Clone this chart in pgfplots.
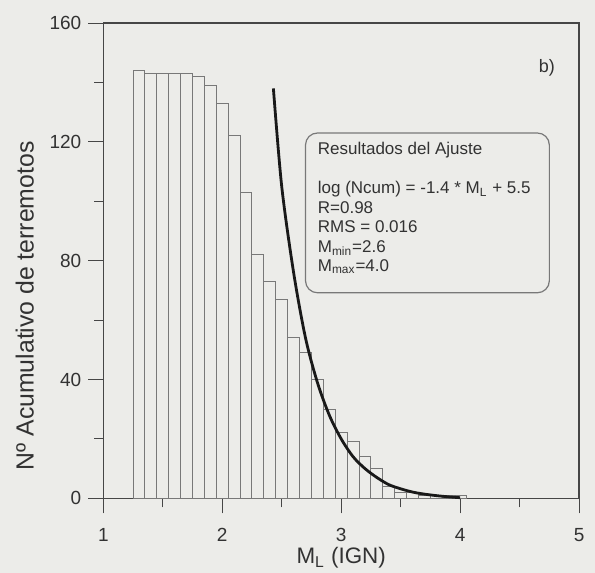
\documentclass[border=0pt]{standalone}
\usepackage{fontspec}
\setmainfont{Liberation Sans}
\usepackage{pgfplots}
\pgfplotsset{compat=1.18}
\definecolor{bgc}{RGB}{236,236,233}
\definecolor{axc}{RGB}{70,70,70}
\definecolor{barc}{RGB}{120,120,120}
\definecolor{txc}{RGB}{50,50,50}
\begin{document}
\begin{tikzpicture}
\path[use as bounding box, fill=bgc] (-51.65pt,-37.35pt) rectangle (245.85pt,249.15pt);
\begin{axis}[
  at={(0,0)}, anchor=south west,
  scale only axis,
  width=237.9pt, height=237.6pt,
  xmin=1, xmax=5, ymin=0, ymax=160,
  xtick={1,2,3,4,5}, ytick={0,40,80,120,160},
  minor x tick num=1, minor y tick num=1,
  tick align=outside,
  major tick length=7.5pt, minor tick length=4.5pt,
  tick style={axc, line width=0.5pt},
  axis line style={axc, line width=0.6pt},
  every tick/.style={axc},
  xtick pos=bottom, ytick pos=left,
  tick label style={font=\fontsize{9.5}{11}\selectfont, text=txc},
  xticklabel style={yshift=-4pt},
  /pgf/number format/assume math mode=true,
  xlabel={M\textsubscript{L} (IGN)},
  ylabel={Nº Acumulativo de terremotos},
  xlabel style={font=\fontsize{11.2}{13}\selectfont, text=txc, yshift=4pt},
  ylabel style={font=\fontsize{12.4}{14}\selectfont, text=txc, at={(ticklabel cs:0.405)}, yshift=1pt},
  axis background/.style={fill=bgc},
  clip=false,
]
\addplot[ybar, bar width=0.1, bar shift=0pt, draw=barc, fill=bgc, line width=0.5pt] coordinates {
(1.3,144) (1.4,143) (1.5,143) (1.6,143) (1.7,143) (1.8,142) (1.9,139) (2.0,133)
(2.1,122) (2.2,103) (2.3,82) (2.4,73) (2.5,67) (2.6,54) (2.7,49) (2.8,40)
(2.9,30) (3.0,22) (3.1,19) (3.2,14) (3.3,10) (3.4,4) (3.5,2) (3.6,2)
(3.7,1) (3.8,1) (3.9,1) (4.0,1)
};
\addplot[black!90, line width=1.4pt, smooth, tension=0.5] coordinates {
(2.43,138) (2.5,105) (2.6,76) (2.7,54) (2.8,39) (2.9,28) (3.0,20) (3.1,14)
(3.2,10) (3.3,7) (3.4,4.6) (3.5,3.2) (3.6,2.1) (3.7,1.4) (3.8,0.9) (3.9,0.5) (4.0,0.2)
};
\draw[barc, line width=0.6pt, rounded corners=6pt] (axis cs:2.70,123) rectangle (axis cs:4.75,69.2);
\node[anchor=north west, align=left, inner sep=0pt, text=txc,
  font=\fontsize{8.5}{9.75}\selectfont] at ([xshift=6pt,yshift=-4.5pt]axis cs:2.70,123)
  {Resultados del Ajuste\\[9.75pt]
   log (Ncum) = -1.4 * M\textsubscript{L} + 5.5\\
   R=0.98\\
   RMS = 0.016\\
   M\textsubscript{min}=2.6\\
   M\textsubscript{max}=4.0};
\node[text=txc, font=\fontsize{9}{11}\selectfont] at (axis cs:4.73,145) {b)};
\end{axis}
\end{tikzpicture}
\end{document}
